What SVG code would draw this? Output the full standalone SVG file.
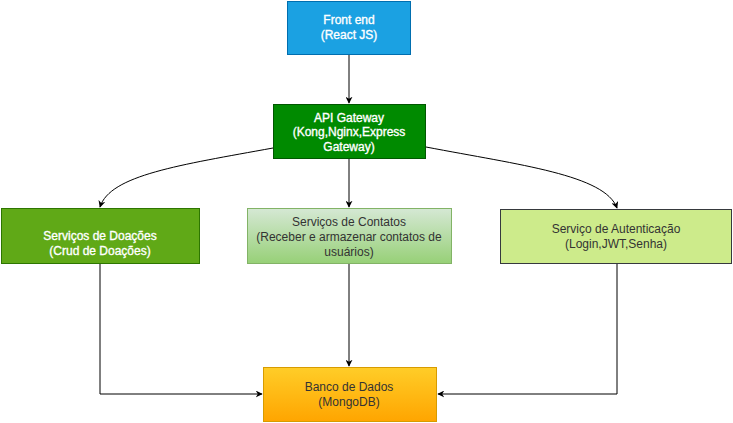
<svg xmlns="http://www.w3.org/2000/svg" width="733" height="423" viewBox="0 0 733 423">
<style>
text{font-family:"Liberation Sans",Arial,sans-serif;font-size:12px;text-anchor:middle}
.w{fill:#ffffff;stroke:#ffffff;stroke-width:0.35}
.d{fill:#333333}
.e{fill:none;stroke:#000000;stroke-width:1}
</style>
<defs>
<marker id="arr" viewBox="0 0 10 10" refX="9" refY="5" markerWidth="7" markerHeight="7" orient="auto" markerUnits="userSpaceOnUse">
<path d="M0,0 L10,5 L0,10 L3,5 Z" fill="#000"/>
</marker>
<linearGradient id="gc" x1="0" y1="0" x2="0" y2="1"><stop offset="0" stop-color="#d5e8d4"/><stop offset="1" stop-color="#97d077"/></linearGradient>
<linearGradient id="gb" x1="0" y1="0" x2="0" y2="1"><stop offset="0" stop-color="#ffcd28"/><stop offset="1" stop-color="#ffa500"/></linearGradient>
</defs>
<rect width="733" height="423" fill="#ffffff"/>
<g id="connectors">
<path class="e" d="M349,55 L349,103" marker-end="url(#arr)"/>
<path class="e" d="M349,159 L349,207" marker-end="url(#arr)"/>
<path class="e" d="M273,148 C180,165 110,175 100,207" marker-end="url(#arr)"/>
<path class="e" d="M426,147 C520,165 605,175 617,208" marker-end="url(#arr)"/>
<path class="e" d="M100,263 L100,394 L262,394" marker-end="url(#arr)"/>
<path class="e" d="M349,263 L349,366" marker-end="url(#arr)"/>
<path class="e" d="M617,264 L617,394 L438,394" marker-end="url(#arr)"/>
</g>
<g id="frontend">
<rect x="287.5" y="1.5" width="123" height="53" fill="#1ba1e2" stroke="#006eaf"/>
<text class="w" x="349" y="24">Front end</text>
<text class="w" x="349" y="39">(React JS)</text>
</g>
<g id="gateway">
<rect x="273.5" y="104.5" width="152" height="54" fill="#008a00" stroke="#005700"/>
<text class="w" x="349" y="122">API Gateway</text>
<text class="w" x="349" y="136">(Kong,Nginx,Express</text>
<text class="w" x="349" y="151">Gateway)</text>
</g>
<g id="doacoes">
<rect x="1.5" y="208.5" width="198" height="55" fill="#60a917" stroke="#2d7600"/>
<text class="w" x="100" y="240">Serviços de Doações</text>
<text class="w" x="100" y="255">(Crud de Doações)</text>
</g>
<g id="contatos">
<rect x="247.5" y="208.5" width="204" height="55" fill="url(#gc)" stroke="#82b366"/>
<text class="d" x="349" y="226">Serviços de Contatos</text>
<text class="d" x="349" y="241">(Receber e armazenar contatos de</text>
<text class="d" x="349" y="256">usuários)</text>
</g>
<g id="autenticacao">
<rect x="500.5" y="209.5" width="231" height="54" fill="#cdeb8b" stroke="#36393d"/>
<text class="d" x="616" y="233">Serviço de Autenticação</text>
<text class="d" x="616" y="248">(Login,JWT,Senha)</text>
</g>
<g id="banco">
<rect x="263.5" y="367.5" width="173" height="54" fill="url(#gb)" stroke="#d79b00"/>
<text class="d" x="349" y="391">Banco de Dados</text>
<text class="d" x="349" y="406">(MongoDB)</text>
</g>
</svg>
